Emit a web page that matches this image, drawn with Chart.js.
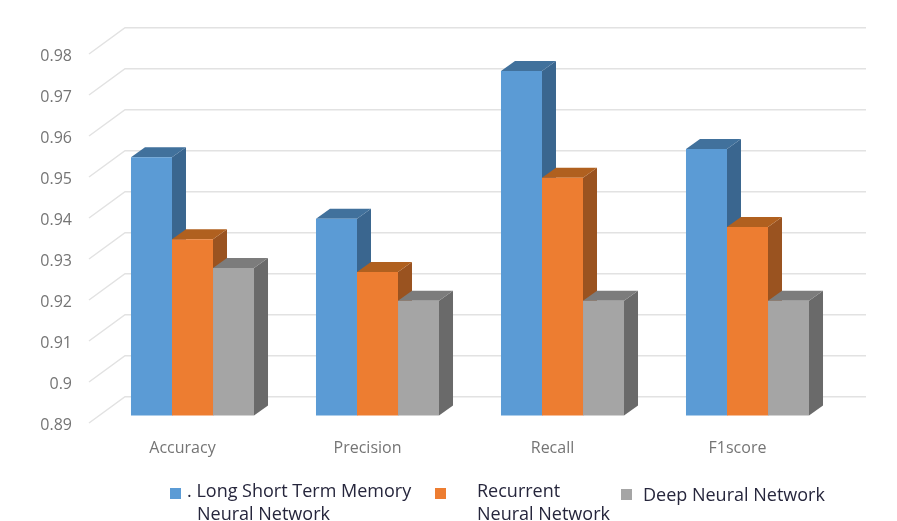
<!DOCTYPE html>
<html>
<head>
<meta charset="utf-8">
<title>Model comparison</title>
<script src="https://cdn.jsdelivr.net/npm/chart.js@4"></script>
<style>
    html, body { margin: 0; padding: 0; background: #ffffff; }
    canvas { display: block; }
</style>
</head>
<body>
<canvas id="metricsChart" width="897" height="521"></canvas>
<script>
// Chart data
const categories = ["Accuracy", "Precision", "Recall", "F1score"];
const lstmValues = [0.953, 0.938, 0.974, 0.955];
const rnnValues = [0.933, 0.925, 0.948, 0.936];
const dnnValues = [0.926, 0.918, 0.918, 0.918];
const yTickLabels = ["0.89", "0.9", "0.91", "0.92", "0.93", "0.94", "0.95", "0.96", "0.97", "0.98"];
const seriesNames = ["LSTM", "RNN", "DNN"];

// Colours for the front, side and top of each bar
const frontColors = ["#5b9bd5", "#ed7d31", "#a5a5a5"];
const sideColors = ["#3a668f", "#9a5320", "#6a6a6a"];
const topColors = ["#41719c", "#b0601f", "#7c7c7c"];

// Legend rows, positioned by hand because the entries wrap differently
const legendItems = [
    { color: frontColors[0], box: [170, 488], lines: [[187, 492, ". Long Short Term Memory"], [197, 515, "Neural Network"]] },
    { color: frontColors[1], box: [435, 488], lines: [[477, 492, "Recurrent"], [477, 515, "Neural Network"]] },
    { color: frontColors[2], box: [621, 489], lines: [[643, 496, "Deep Neural Network"]] }
];

const BAR_DEPTH_X = 14;
const BAR_DEPTH_Y = -10;

// Gridlines run along the floor edge of the wall and then across the back
const depthGrid = {
    id: "depthGrid",
    beforeDatasetsDraw(chart) {
        const ctx = chart.ctx;
        const yScale = chart.scales.y;
        ctx.save();
        ctx.strokeStyle = "#e2e2e2";
        ctx.lineWidth = 1.5;
        yScale.ticks.forEach((tick, i) => {
            const y = yScale.getPixelForTick(i);
            ctx.beginPath();
            ctx.moveTo(89, y + 7.5);
            ctx.lineTo(125, y - 18.8);
            ctx.lineTo(866, y - 18.8);
            ctx.stroke();
        });
        ctx.restore();
    }
};

// Side and top faces of the bars, the front face comes from Chart.js
const barDepth = {
    id: "barDepth",
    beforeDatasetsDraw(chart) {
        const ctx = chart.ctx;
        const dx = BAR_DEPTH_X;
        const dy = BAR_DEPTH_Y;
        const floor = chart.scales.y.bottom;
        categories.forEach((name, c) => {
            chart.data.datasets.forEach((ds, d) => {
                const bar = chart.getDatasetMeta(d).data[c];
                const left = bar.x - bar.width / 2;
                const right = bar.x + bar.width / 2;

                ctx.fillStyle = sideColors[d];
                ctx.beginPath();
                ctx.moveTo(right, bar.y);
                ctx.lineTo(right + dx, bar.y + dy);
                ctx.lineTo(right + dx, floor + dy);
                ctx.lineTo(right, floor);
                ctx.closePath();
                ctx.fill();

                ctx.fillStyle = topColors[d];
                ctx.beginPath();
                ctx.moveTo(left, bar.y);
                ctx.lineTo(left + dx, bar.y + dy);
                ctx.lineTo(right + dx, bar.y + dy);
                ctx.lineTo(right, bar.y);
                ctx.closePath();
                ctx.fill();
            });
        });
    }
};

const sideLegend = {
    id: "sideLegend",
    afterDraw(chart) {
        const ctx = chart.ctx;
        ctx.save();
        ctx.font = "18px 'Open Sans'";
        ctx.textBaseline = "middle";
        ctx.textAlign = "left";
        legendItems.forEach(item => {
            ctx.fillStyle = item.color;
            ctx.fillRect(item.box[0], item.box[1], 11, 11);
            ctx.fillStyle = "#26263c";
            item.lines.forEach(line => ctx.fillText(line[2], line[0], line[1]));
        });
        ctx.restore();
    }
};

new Chart(document.getElementById("metricsChart").getContext("2d"), {
    type: "bar",
    data: {
        labels: categories,
        datasets: [lstmValues, rnnValues, dnnValues].map((values, i) => ({
            label: seriesNames[i],
            data: values,
            backgroundColor: frontColors[i],
            borderWidth: 0,
            barPercentage: 1,
            categoryPercentage: 0.665
        }))
    },
    options: {
        responsive: false,
        animation: false,
        layout: { padding: { top: 46.5, right: 57, left: 0, bottom: 0 } },
        plugins: {
            legend: { display: false },
            tooltip: { enabled: false }
        },
        scales: {
            x: {
                afterFit(scale) { scale.height = 105.5; },
                grid: { display: false, drawTicks: false },
                border: { display: false },
                ticks: {
                    color: "#757575",
                    font: { family: "'Open Sans'", size: 16 },
                    padding: 23,
                    labelOffset: -10,
                    maxRotation: 0
                }
            },
            y: {
                min: 0.89,
                max: 0.98,
                afterFit(scale) { scale.width = 100; },
                grid: { display: false, drawTicks: false },
                border: { display: false },
                ticks: {
                    stepSize: 0.01,
                    autoSkip: false,
                    color: "#757575",
                    font: { family: "'Open Sans'", size: 16 },
                    padding: 28,
                    labelOffset: 10,
                    callback: (value, index) => yTickLabels[index]
                }
            }
        }
    },
    plugins: [depthGrid, barDepth, sideLegend]
});
</script>
</body>
</html>
